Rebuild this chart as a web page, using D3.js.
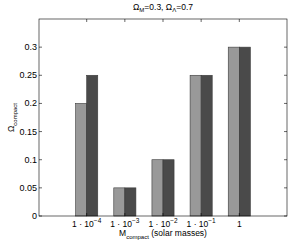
<!DOCTYPE html>
<html><head><meta charset="utf-8">
<script src="https://cdn.jsdelivr.net/npm/d3@7"></script>
<style>body{margin:0;background:#fff}text{font-family:"Liberation Sans",Arial,sans-serif;fill:#000}</style>
</head><body>
<svg id="c" width="289" height="242"></svg>
<script>
const categories = ["1e-4","1e-3","1e-2","1e-1","1"];
const catLabels = [["1 · 10","−4"],["1 · 10","−3"],["1 · 10","−2"],["1 · 10","−1"],["1",""]];
const seriesA = [0.2, 0.05, 0.1, 0.25, 0.3];
const seriesB = [0.25, 0.05, 0.1, 0.25, 0.3];
const yTicks = [0, 0.05, 0.1, 0.15, 0.2, 0.25, 0.3];
const yTickLabels = ["0","0.05","0.1","0.15","0.2","0.25","0.3"];

const svg = d3.select("#c");
const L = 39, R = 287, T = 19, B = 216;
const x = d3.scaleLinear().domain([-0.25, 6.25]).range([L, R]);
const y = d3.scaleLinear().domain([0, 0.35]).range([B, T]);
const bw = 0.29;

const g = svg.append("g");
const series = [{v: seriesA, c: "#999999", off: -bw}, {v: seriesB, c: "#4a4a4a", off: 0}];
series.forEach(s => {
  g.selectAll(null).data(s.v).enter().append("rect")
    .attr("x", (d, i) => x(i + 1 + s.off))
    .attr("width", x(bw) - x(0))
    .attr("y", d => y(d))
    .attr("height", d => y(0) - y(d))
    .attr("fill", s.c).attr("stroke", "#3a3a3a").attr("stroke-width", 0.6);
});

// box
svg.append("rect").attr("x", L).attr("y", T).attr("width", R - L).attr("height", B - T)
  .attr("fill", "none").attr("stroke", "#000").attr("stroke-width", 0.6);

// y ticks
yTicks.forEach((t, i) => {
  svg.append("line").attr("x1", L).attr("x2", L + 3).attr("y1", y(t)).attr("y2", y(t)).attr("stroke", "#000").attr("stroke-width", 0.6);
  svg.append("line").attr("x1", R).attr("x2", R - 3).attr("y1", y(t)).attr("y2", y(t)).attr("stroke", "#000").attr("stroke-width", 0.6);
  svg.append("text").attr("x", L - 2).attr("y", y(t) + 3).attr("text-anchor", "end").attr("font-size", 9).text(yTickLabels[i]);
});
// x ticks
categories.forEach((c, i) => {
  const px = x(i + 1);
  svg.append("line").attr("x1", px).attr("x2", px).attr("y1", B).attr("y2", B - 3).attr("stroke", "#000").attr("stroke-width", 0.6);
  svg.append("line").attr("x1", px).attr("x2", px).attr("y1", T).attr("y2", T + 3).attr("stroke", "#000").attr("stroke-width", 0.6);
  const t = svg.append("text").attr("x", px).attr("y", 227).attr("text-anchor", "middle").attr("font-size", 8.5);
  t.append("tspan").text(catLabels[i][0]);
  if (catLabels[i][1]) t.append("tspan").attr("dy", -4).attr("font-size", 6.5).text(catLabels[i][1]);
});

// title
const tt = svg.append("text").attr("x", 163).attr("y", 10).attr("text-anchor", "middle").attr("font-size", 8.5);
tt.append("tspan").text("Ω");
tt.append("tspan").attr("font-size", 6).attr("dy", 2).text("M");
tt.append("tspan").attr("dy", -2).text("=0.3, Ω");
tt.append("tspan").attr("font-size", 6).attr("dy", 2).text("Λ");
tt.append("tspan").attr("dy", -2).text("=0.7");

// x label
const xl = svg.append("text").attr("x", 163).attr("y", 236).attr("text-anchor", "middle").attr("font-size", 8.5);
xl.append("tspan").text("M");
xl.append("tspan").attr("font-size", 6).attr("dy", 3).text("compact");
xl.append("tspan").attr("dy", -3).text(" (solar masses)");

// y label
const yl = svg.append("text").attr("transform", `translate(14,${(T + B) / 2}) rotate(-90)`).attr("text-anchor", "middle").attr("font-size", 8.5);
yl.append("tspan").text("Ω");
yl.append("tspan").attr("font-size", 6).attr("dy", 3).text("compact");
</script>
</body></html>
